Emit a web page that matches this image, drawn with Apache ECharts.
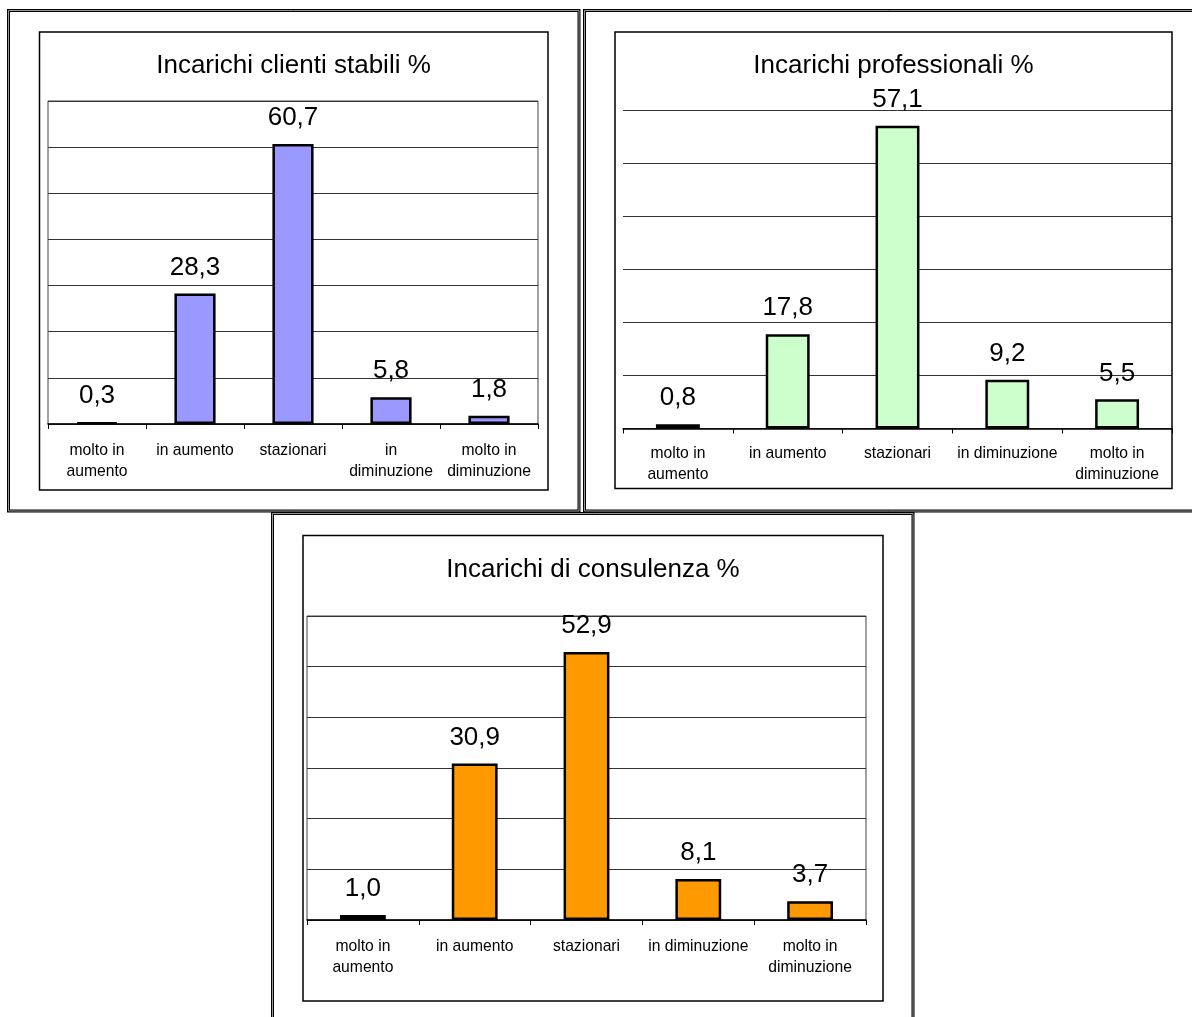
<!DOCTYPE html>
<html>
<head>
<meta charset="utf-8">
<script src="https://cdn.jsdelivr.net/npm/echarts@6/dist/echarts.min.js"></script>
<style>
  html, body { margin: 0; padding: 0; background: #fff; }
  #chart { width: 1192px; height: 1017px; }
</style>
</head>
<body>
<div id="chart"></div>
<script>
// Category labels (the narrow first chart wraps "in diminuzione")
const labelsStabili = ['molto in\naumento', 'in aumento', 'stazionari', 'in\ndiminuzione', 'molto in\ndiminuzione'];
const labelsAltri = ['molto in\naumento', 'in aumento', 'stazionari', 'in diminuzione', 'molto in\ndiminuzione'];

// Percentages per panel
const clientiStabili = [0.3, 28.3, 60.7, 5.8, 1.8];
const professionali = [0.8, 17.8, 57.1, 9.2, 5.5];
const consulenza = [1.0, 30.9, 52.9, 8.1, 3.7];

const titles = ['Incarichi clienti stabili %', 'Incarichi professionali %', 'Incarichi di consulenza %'];
const yMax = [70, 60, 60];

const FONT = "'Liberation Sans', Arial, Helvetica, sans-serif";

const panels = [
  { labels: labelsStabili, data: clientiStabili, color: '#9999FF', barWidth: '42%',
    grid: { left: 48, top: 101, width: 490, height: 323, show: true, borderColor: '#444', borderWidth: 1 },
    labelMargin: 16, title: { x: 293.5, y: 66 } },
  { labels: labelsAltri, data: professionali, color: '#CCFFCC', barWidth: '40%',
    grid: { left: 623, top: 110.5, width: 549, height: 318, show: false },
    labelMargin: 14.5, title: { x: 893.5, y: 65.5 } },
  { labels: labelsAltri, data: consulenza, color: '#FF9900', barWidth: '41%',
    grid: { left: 307, top: 616, width: 559, height: 304, show: true, borderColor: '#444', borderWidth: 1 },
    labelMargin: 16, title: { x: 593, y: 569.5 } }
];

const fmt = v => v.toFixed(1).replace('.', ',');

const chart = echarts.init(document.getElementById('chart'), null, { renderer: 'canvas' });

const option = {
  animation: false,
  backgroundColor: '#fff',
  textStyle: { fontFamily: FONT },
  grid: panels.map(p => Object.assign({ containLabel: false, outerBoundsMode: 'none' }, p.grid)),
  xAxis: panels.map((p, i) => ({
    type: 'category',
    gridIndex: i,
    data: p.labels,
    axisLine: { show: true, lineStyle: { color: '#000', width: 1.5 } },
    axisTick: { show: true, length: 5, lineStyle: { color: '#000', width: 1 } },
    axisLabel: { interval: 0, margin: p.labelMargin, fontSize: 15.7, lineHeight: 21,
                 color: '#000', fontFamily: FONT, align: 'center' },
    splitLine: { show: false }
  })),
  yAxis: panels.map((p, i) => ({
    type: 'value',
    gridIndex: i,
    min: 0,
    max: yMax[i],
    interval: 10,
    axisLabel: { show: false },
    axisTick: { show: false },
    axisLine: { show: false },
    splitLine: { show: true, lineStyle: { color: '#333', width: 1 } }
  })),
  series: panels.map((p, i) => ({
    type: 'bar',
    xAxisIndex: i,
    yAxisIndex: i,
    data: p.data,
    barWidth: p.barWidth,
    itemStyle: { color: p.color, borderColor: '#000', borderWidth: 2.5 },
    label: {
      show: true, position: 'top', distance: 13,
      fontSize: 26, color: '#000', fontFamily: FONT,
      formatter: prm => fmt(prm.value)
    }
  })),
  graphic: [
    // outer frames (dark double-edged border)
    ...[[8.5, 10.5, 570.5, 500.5], [584.5, 10.5, 612, 500.5], [272.5, 513.5, 640.5, 510]].flatMap(r => [
      { type: 'rect', silent: true, z: 0, shape: { x: r[0], y: r[1], width: r[2], height: r[3] },
        style: { fill: 'none', stroke: '#000', lineWidth: 3 } },
      { type: 'rect', silent: true, z: 1, shape: { x: r[0], y: r[1], width: r[2], height: r[3] },
        style: { fill: 'none', stroke: '#999', lineWidth: 1 } }
    ]),
    // inner chart-area frames
    ...[[39.5, 32, 508.5, 458], [615, 32, 557, 456.5], [303, 535.5, 580, 465.5]].map(r => ({
      type: 'rect', silent: true, z: 2, shape: { x: r[0], y: r[1], width: r[2], height: r[3] },
      style: { fill: 'none', stroke: '#000', lineWidth: 1.5 }
    })),
    // panel titles
    ...panels.map((p, i) => ({
      type: 'text', silent: true, z: 3, x: p.title.x, y: p.title.y,
      style: { text: titles[i], fontSize: 26, fontFamily: FONT, fill: '#000',
               textAlign: 'center', textVerticalAlign: 'middle' }
    }))
  ]
};

chart.setOption(option);
</script>
</body>
</html>
